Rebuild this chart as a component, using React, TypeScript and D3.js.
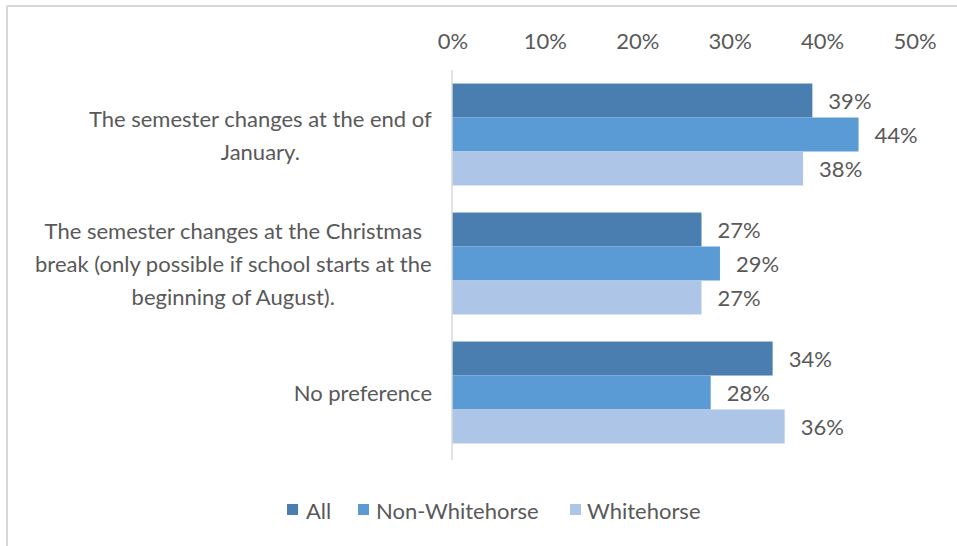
import React from "react";
import * as d3 from "d3";

const categories = [
  ["The semester changes at the end of", "January."],
  ["The semester changes at the Christmas", "break (only possible if school starts at the", "beginning of August)."],
  ["No preference"],
];
const seriesNames = ["All", "Non-Whitehorse", "Whitehorse"];
const allValues = [0.39, 0.27, 0.347];
const nonWhitehorseValues = [0.44, 0.29, 0.28];
const whitehorseValues = [0.38, 0.27, 0.36];
const allLabels = ["39%", "27%", "34%"];
const nonWhitehorseLabels = ["44%", "29%", "28%"];
const whitehorseLabels = ["38%", "27%", "36%"];
const tickValues = [0, 0.1, 0.2, 0.3, 0.4, 0.5];
const colors = ["#4a7db0", "#5b9bd5", "#adc5e6"];

const W = 957;
const H = 546;
const FONT = "Lato, 'Open Sans', sans-serif";
const FS = 22;
const TEXT = "#595959";

function measure(text: string, size: number) {
  const c = document.createElement("canvas");
  const ctx = c.getContext("2d")!;
  ctx.font = `${size}px Lato`;
  return ctx.measureText(text).width;
}

export default function App() {
  const series = [allValues, nonWhitehorseValues, whitehorseValues];
  const labels = [allLabels, nonWhitehorseLabels, whitehorseLabels];
  const x = d3.scaleLinear().domain([0, 0.5]).range([452, 914]);
  const y = d3
    .scaleBand<number>()
    .domain(d3.range(categories.length))
    .range([70, 457])
    .paddingInner(0.21)
    .paddingOuter(0.105);
  const inner = d3.scaleBand<number>().domain(d3.range(series.length)).range([0, y.bandwidth()]);
  const fmt = d3.format(".0%");
  const lineH = 33;
  const labelRight = 432;

  const legendItems = [
    { x: 287, textX: 306 },
    { x: 358, textX: 376 },
    { x: 570, textX: 587 },
  ];

  return (
    <div style={{ position: "absolute", left: 0, top: 0 }}>
      <svg width={W} height={H} style={{ display: "block", fontFamily: FONT }}>
        <rect width={W} height={H} fill="#fff" />
        <line x1={7} y1={6} x2={W} y2={6} stroke="#d9d9d9" strokeWidth={2} />
        <line x1={7} y1={6} x2={7} y2={H} stroke="#d9d9d9" strokeWidth={2} />

        {tickValues.map((t) => (
          <text key={t} x={x(t) + 1} y={40} textAnchor="middle" dominantBaseline="central" fontSize={FS} fill={TEXT}>
            {fmt(t)}
          </text>
        ))}

        {series.map((vals, si) =>
          vals.map((v, ci) => {
            const y0 = (y(ci) as number) + (inner(si) as number);
            return (
              <g key={`${si}-${ci}`}>
                <rect x={x(0)} y={y0} width={x(v) - x(0)} height={inner.bandwidth()} fill={colors[si]} />
                <text
                  x={x(v) + 16}
                  y={y0 + inner.bandwidth() / 2}
                  dominantBaseline="central"
                  fontSize={FS}
                  fill={TEXT}
                >
                  {labels[si][ci]}
                </text>
              </g>
            );
          })
        )}

        <line x1={x(0)} y1={70} x2={x(0)} y2={460} stroke="#d9d9d9" strokeWidth={1.5} />

        {categories.map((lines, ci) => {
          const maxW = Math.max(...lines.map((l) => measure(l, FS)));
          const cx = labelRight - maxW / 2;
          const cy = (y(ci) as number) + y.bandwidth() / 2;
          const startY = cy - ((lines.length - 1) * lineH) / 2;
          return (
            <text key={ci} textAnchor="middle" fontSize={FS} fill={TEXT}>
              {lines.map((l, li) => (
                <tspan key={li} x={cx} y={startY + li * lineH} dominantBaseline="central">
                  {l}
                </tspan>
              ))}
            </text>
          );
        })}

        {seriesNames.map((name, si) => (
          <g key={name}>
            <rect x={legendItems[si].x} y={504} width={11} height={11} fill={colors[si]} />
            <text x={legendItems[si].textX} y={510} dominantBaseline="central" fontSize={FS} fill={TEXT}>
              {name}
            </text>
          </g>
        ))}
      </svg>
    </div>
  );
}
